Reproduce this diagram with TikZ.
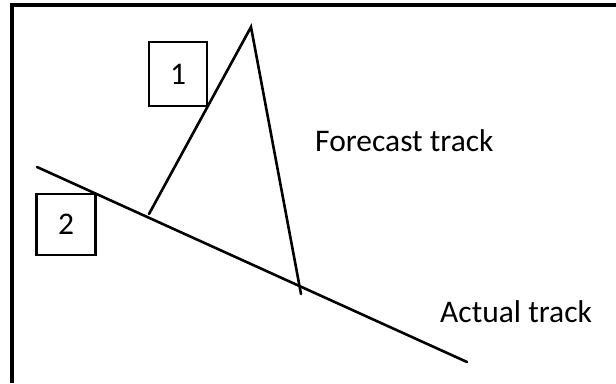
\documentclass[tikz,border=0pt]{standalone}
\usepackage{fontspec}
\setmainfont{Carlito}
\begin{document}
\begin{tikzpicture}[x=1pt,y=-1pt,
  track/.style={line width=2.6pt,line cap=round},
  numbox/.style={draw,line width=2.3pt,inner sep=0pt,font=\fontsize{31.5}{31.5}\selectfont},
  lbl/.style={anchor=base west,inner sep=0pt,font=\fontsize{31.5}{31.5}\selectfont}]
\useasboundingbox (0,0) rectangle (616,383);
% frame (left and top edges only visible)
\coordinate (fb) at (12,383);
\coordinate (fc) at (12,5);
\coordinate (fr) at (616,5);
\draw[line width=3.4pt] (fb) -- (fc) -- (fr);
% points
\coordinate (apex) at (251,27);
\coordinate (lf) at (149,214);
\coordinate (rf) at (301,294);
\coordinate (as) at (37,167);
\coordinate (ae) at (467,362);
\draw[track] (as) -- (ae);
\draw[track] (lf) -- (apex) -- (rf);
% boxes
\node[numbox,minimum width=58pt,minimum height=64pt] (b1) at (178,74) {\raisebox{-3.5pt}{1}};
\node[numbox,minimum width=59pt,minimum height=61pt] (b2) at (66,224.5) {\raisebox{-4pt}{2}};
% labels
\node[lbl] (ft) at (315,151.5) {Forecast track};
\node[lbl] (at) at (440,322.5) {Actual track};
\end{tikzpicture}
\end{document}
